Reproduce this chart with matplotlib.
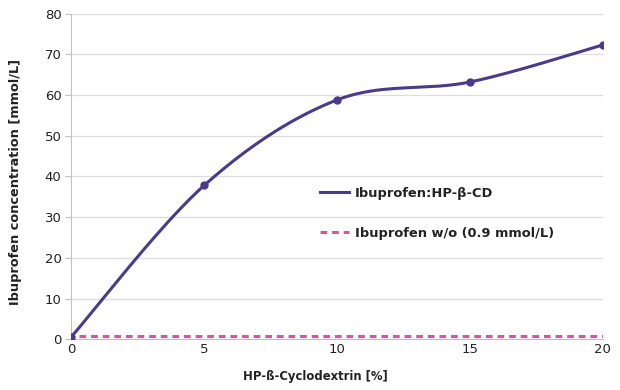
import numpy as np
import matplotlib
matplotlib.use("Agg")
import matplotlib.pyplot as plt

x_vals = [0, 5, 10, 15, 20]
conc_cd = [0.6, 37.8, 58.8, 63.2, 72.3]
base_x = [0.3, 20]
base_y = [0.9, 0.9]
yticks = [0, 10, 20, 30, 40, 50, 60, 70, 80]
xticks = [0, 5, 10, 15, 20]

def smooth(xs, ys, n=40):
    # Catmull-Rom style Bezier smoothing (like spreadsheet smoothed lines)
    xs = np.asarray(xs, float); ys = np.asarray(ys, float)
    P = np.column_stack([xs, ys])
    out = []
    for i in range(len(P) - 1):
        p0 = P[i - 1] if i > 0 else P[i]
        p1 = P[i]; p2 = P[i + 1]
        p3 = P[i + 2] if i + 2 < len(P) else P[i + 1]
        c1 = p1 + (p2 - p0) / 6.0
        c2 = p2 - (p3 - p1) / 6.0
        t = np.linspace(0, 1, n)[:, None]
        seg = (1 - t) ** 3 * p1 + 3 * (1 - t) ** 2 * t * c1 + 3 * (1 - t) * t ** 2 * c2 + t ** 3 * p2
        out.append(seg if i == 0 else seg[1:])
    s = np.vstack(out)
    return s[:, 0], s[:, 1]

purple = "#4a3a8a"
pink = "#d9549b"

fig = plt.figure(figsize=(6.2, 3.9), dpi=100)
ax = fig.add_axes([0.115, 0.13, 0.857, 0.835])

sx, sy = smooth(x_vals, conc_cd)
ax.plot(sx, sy, color=purple, lw=2.2, label="Ibuprofen:HP-β-CD", zorder=3)
ax.plot(x_vals, conc_cd, "o", color=purple, ms=5, zorder=4)
ax.plot(base_x, base_y, color=pink, lw=2.2, ls=(0, (2.2, 1.6)), label="Ibuprofen w/o (0.9 mmol/L)", zorder=3)

ax.set_xlim(0, 20)
ax.set_ylim(0, 80)
ax.set_xticks(xticks)
ax.set_yticks(yticks)
ax.grid(axis="y", color="#dddddd", lw=0.9)
ax.set_axisbelow(True)
for s in ["top", "right"]:
    ax.spines[s].set_visible(False)
for s in ["left", "bottom"]:
    ax.spines[s].set_color("#bfbfbf")
ax.tick_params(axis="y", length=4, color="#bfbfbf", labelsize=9.5, labelcolor="#222222", pad=3)
ax.tick_params(axis="x", length=0, labelsize=9.5, labelcolor="#222222", pad=3)
ax.set_xlabel("HP-ß-Cyclodextrin [%]", fontsize=8.4, fontweight="bold", color="#222222")
ax.set_ylabel("Ibuprofen concentration [mmol/L]", fontsize=9.3, fontweight="bold", color="#222222")
ax.xaxis.set_label_coords(0.459, -0.094)
ax.yaxis.set_label_coords(-0.092, 0.483)

leg = ax.legend(loc="upper left", bbox_to_anchor=(0.468, 0.468), frameon=False,
                prop={"size": 9.4, "weight": "bold"}, handlelength=2.2, labelspacing=2.05,
                handletextpad=0.5, borderpad=0, borderaxespad=0)
for t in leg.get_texts():
    t.set_color("#222222")

fig.savefig("out.png", dpi=100)
